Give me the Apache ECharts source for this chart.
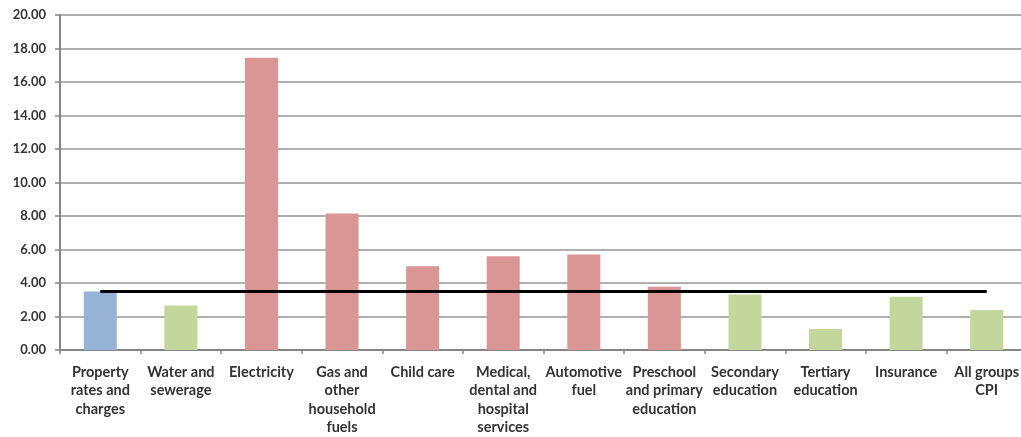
<!DOCTYPE html>
<html>
<head>
<meta charset="utf-8">
<script src="https://cdn.jsdelivr.net/npm/echarts@6/dist/echarts.min.js"></script>
<style>
  html, body { margin: 0; padding: 0; background: #fff; overflow: hidden; width: 1021px; height: 437px; }
  /* the plot area runs slightly past the right edge of the page */
  #chart { width: 1030px; height: 437px; }
</style>
</head>
<body>
<div id="chart"></div>
<script>
// Price growth by component (%), compared against property rates and charges
const categories = [
  'Property\nrates and\ncharges',
  'Water and\nsewerage',
  'Electricity',
  'Gas and\nother\nhousehold\nfuels',
  'Child care',
  'Medical,\ndental and\nhospital\nservices',
  'Automotive\nfuel',
  'Preschool\nand primary\neducation',
  'Secondary\neducation',
  'Tertiary\neducation',
  'Insurance',
  'All groups\nCPI'
];
const values = [3.50, 2.65, 17.45, 8.15, 5.00, 5.60, 5.70, 3.78, 3.32, 1.25, 3.18, 2.39];
const yTicks = { min: 0, max: 20, interval: 2 };

// Benchmark line: the property rates value, drawn across every category
const benchmark = values[0];
const benchmarkLine = categories.map(() => benchmark);

const BLUE = '#95b3d7', RED = '#d99694', GREEN = '#c3d69b';
const barData = values.map((v, i) => ({
  value: v,
  itemStyle: { color: i === 0 ? BLUE : (v > benchmark ? RED : GREEN) }
}));

const textStyle = { fontFamily: 'Lato', fontWeight: 'bold', color: '#333' };

const chart = echarts.init(document.getElementById('chart'), null, { renderer: 'canvas' });
chart.setOption({
  animation: false,
  grid: { left: 60, top: 15, height: 335, width: 967, containLabel: false },
  xAxis: {
    type: 'category',
    data: categories,
    axisLine: { lineStyle: { color: '#858585', width: 2 } },
    axisTick: { show: true, length: 4, lineStyle: { color: '#858585', width: 1.5 } },
    axisLabel: Object.assign({ interval: 0, margin: 13, lineHeight: 18.5, fontSize: 14.5 }, textStyle)
  },
  yAxis: {
    type: 'value',
    min: yTicks.min, max: yTicks.max, interval: yTicks.interval,
    axisLine: { show: true, lineStyle: { color: '#858585', width: 2 } },
    axisTick: { show: true, length: 5, lineStyle: { color: '#858585', width: 1.5 } },
    splitLine: { lineStyle: { color: '#b0b0b0', width: 2 } },
    axisLabel: Object.assign({ margin: 14, fontSize: 13, formatter: v => v.toFixed(2) }, textStyle)
  },
  series: [
    {
      type: 'bar',
      data: barData,
      barWidth: '41%',
      z: 2
    },
    {
      type: 'line',
      data: benchmarkLine,
      symbol: 'none',
      lineStyle: { color: '#000', width: 3 },
      z: 3
    }
  ]
});
</script>
</body>
</html>
